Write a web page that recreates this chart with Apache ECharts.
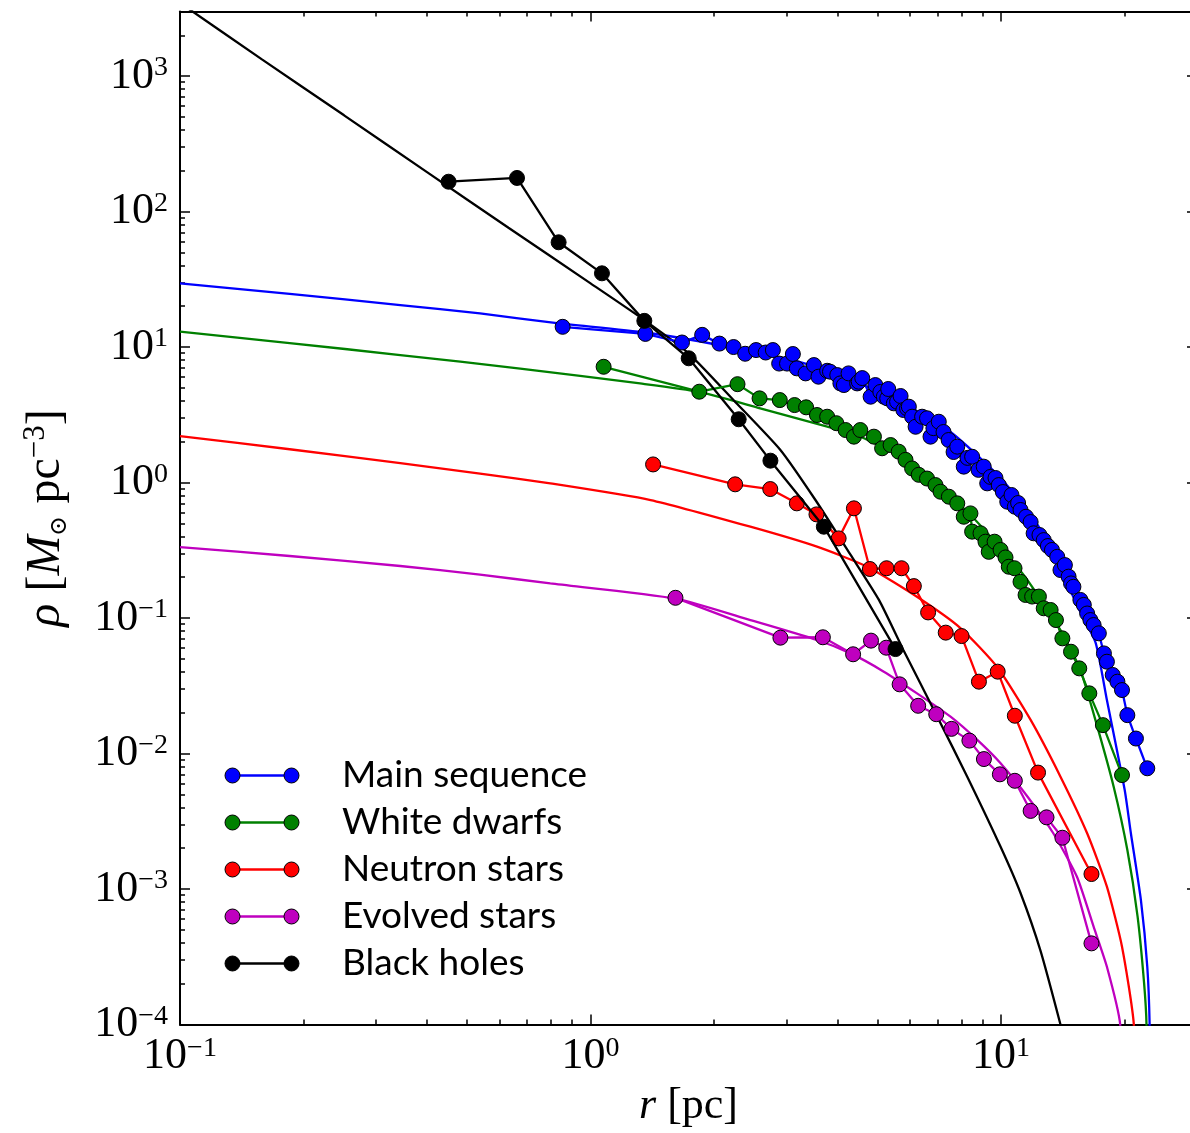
<!DOCTYPE html>
<html><head><meta charset="utf-8">
<script src="https://cdn.jsdelivr.net/npm/echarts@6/dist/echarts.min.js"></script>
<style>html,body{margin:0;padding:0;background:#fff}#c{width:1190px;height:1133px}</style>
</head><body><div id="c"></div>
<script>
// ---------------- data (r [pc], rho [Msun pc^-3]) ----------------
const seriesNames = ['Main sequence', 'White dwarfs', 'Neutron stars', 'Evolved stars', 'Black holes'];
const seriesColors = ['#0000ff', '#008000', '#ff0000', '#bf00bf', '#000000'];

// measured profiles (points joined by lines, in order of radius)
const msData = [[0.855,14.1],[1.36,12.5],[1.67,10.8],[1.87,12.3],[2.06,10.6],[2.23,10.0],[2.38,8.92],[2.53,9.50],[2.67,9.11],[2.78,9.50],[2.88,7.55],[3.01,7.55],[3.11,8.88],[3.18,6.96],[3.34,6.39],[3.50,7.36],[3.59,6.04],[3.77,6.68],[3.83,6.58],[3.99,6.21],[4.06,5.39],[4.14,5.24],[4.25,6.39],[4.46,5.39],[4.50,5.55],[4.59,5.90],[4.81,4.30],[4.94,5.24],[5.08,4.66],[5.18,4.30],[5.28,4.18],[5.31,4.90],[5.48,3.84],[5.58,3.95],[5.69,4.35],[5.78,3.43],[5.90,3.53],[5.96,3.63],[6.07,3.06],[6.19,2.58],[6.42,3.06],[6.60,2.98],[6.73,2.18],[6.84,2.52],[7.05,2.81],[7.24,2.36],[7.45,2.06],[7.66,1.68],[7.82,1.84],[8.11,1.31],[8.28,1.52],[8.50,1.55],[8.81,1.24],[9.07,1.31],[9.25,0.986],[9.42,1.10],[9.69,1.08],[9.87,0.958],[10.1,0.851],[10.35,0.722],[10.6,0.809],[10.8,0.663],[11.0,0.706],[11.15,0.627],[11.5,0.559],[11.8,0.511],[12.0,0.422],[12.4,0.41],[12.7,0.376],[13.0,0.34],[13.3,0.318],[13.7,0.283],[13.95,0.226],[14.3,0.246],[14.6,0.202],[14.8,0.180],[15.0,0.170],[15.6,0.136],[15.9,0.125],[16.2,0.108],[16.5,0.0966],[16.8,0.0888],[17.3,0.0771],[17.8,0.0548],[18.1,0.0476],[18.7,0.0380],[19.2,0.0339],[19.7,0.0294],[20.3,0.0192],[21.3,0.0129],[22.7,0.00778]];
const wdData = [[1.076,7.15],[1.84,4.68],[2.28,5.32],[2.58,4.18],[2.89,4.06],[3.14,3.73],[3.35,3.59],[3.56,3.15],[3.77,3.06],[3.97,2.74],[4.18,2.44],[4.38,2.18],[4.54,2.44],[4.90,2.18],[5.13,1.79],[5.38,1.89],[5.63,1.69],[5.85,1.47],[6.07,1.27],[6.30,1.14],[6.60,1.07],[6.92,0.958],[7.12,0.855],[7.46,0.786],[7.82,0.702],[8.11,0.559],[8.42,0.592],[8.50,0.434],[8.91,0.422],[9.16,0.366],[9.33,0.308],[9.64,0.366],[9.97,0.318],[10.25,0.280],[10.44,0.239],[10.78,0.233],[11.15,0.185],[11.47,0.148],[11.9,0.144],[12.36,0.144],[12.7,0.118],[13.2,0.1146],[13.6,0.0966],[14.1,0.0708],[14.8,0.0564],[15.5,0.0425],[16.4,0.0278],[17.7,0.0162],[19.7,0.00693]];
const nsData = [[1.42,1.36],[2.25,0.970],[2.74,0.895],[3.18,0.702],[3.55,0.582],[4.02,0.387],[4.38,0.645],[4.79,0.230],[5.26,0.233],[5.72,0.233],[6.13,0.172],[6.64,0.110],[7.33,0.078],[8.01,0.0736],[8.83,0.0339],[9.81,0.0402],[10.8,0.019],[12.3,0.00723],[16.6,0.00129]];
const esData = [[1.61,0.141],[2.90,0.0716],[3.68,0.0721],[4.36,0.054],[4.82,0.0681],[5.25,0.0604],[5.66,0.0324],[6.28,0.0225],[6.95,0.0195],[7.57,0.0152],[8.37,0.01245],[9.08,0.0091],[9.93,0.00702],[10.8,0.00629],[11.8,0.00377],[12.9,0.00338],[14.1,0.00239],[16.6,0.000397]];
const bhData = [[0.451,166],[0.662,177],[0.836,59.3],[1.066,35.0],[1.352,15.6],[1.734,8.26],[2.295,2.93],[2.742,1.45],[3.70,0.472],[5.53,0.059]];

// model curves
const msModel = [[0.1,29.5],[0.185,24.7],[0.344,20.4],[0.538,17.7],[0.828,15.0],[1.359,12.8],[2.07,10.3],[3.24,7.75],[4.30,5.71],[5.69,3.93],[7.53,2.36],[9.97,1.08],[12.5,0.446],[15.6,0.111],[17.0,0.0653],[18.1,0.0248],[20.0,0.00538],[20.7,0.00259],[21.9,0.00083],[22.7,0.000267],[23.0,0.0001],[23.2,0.00001]];
const wdModel = [[0.1,13.0],[0.185,10.7],[0.344,8.73],[0.674,6.94],[1.32,5.39],[1.83,4.68],[2.59,3.53],[3.91,2.51],[4.54,2.18],[5.69,1.54],[8.19,0.627],[11.26,0.214],[13.95,0.0815],[15.6,0.0413],[17.15,0.0158],[18.8,0.00569],[20.3,0.00194],[21.5,0.000625],[22.3,0.000201],[22.6,0.0001],[22.75,0.00001]];
const nsModel = [[0.1,2.20],[0.185,1.76],[0.344,1.39],[0.538,1.165],[0.798,0.986],[1.40,0.743],[2.45,0.472],[3.56,0.336],[4.72,0.239],[6.29,0.141],[7.96,0.0843],[9.78,0.0435],[11.8,0.0177],[13.95,0.00675],[16.2,0.00258],[18.1,0.00104],[19.7,0.000375],[21.05,0.0001],[21.4,0.00001]];
const esModel = [[0.1,0.334],[0.185,0.287],[0.344,0.242],[0.538,0.209],[0.798,0.180],[1.61,0.139],[2.45,0.0966],[3.56,0.0688],[4.30,0.0548],[5.18,0.0402],[6.24,0.0278],[7.53,0.0187],[8.75,0.0126],[9.97,0.00847],[11.6,0.0048],[13.4,0.00258],[15.3,0.00123],[16.8,0.000527],[18.1,0.000267],[19.5,0.0001],[19.9,0.00001]];
const bhModel = [[0.1,3470],[0.158,1334],[0.251,513],[0.398,197],[0.631,75.9],[1.0,29.5],[1.352,15.8],[1.73,9.03],[2.24,4.00],[2.90,1.74],[3.53,0.743],[4.30,0.292],[5.04,0.136],[5.78,0.0581],[6.99,0.0187],[8.27,0.00675],[9.97,0.00205],[11.15,0.000934],[12.48,0.000348],[13.95,0.0001],[14.76,0.00005]];

// axes ranges and tick labels
const xRange = [0.1, 30];
const yRange = [1e-4, 3000];
const xMajor = [0.1, 1, 10];
const yMajor = [1e-4, 1e-3, 1e-2, 1e-1, 1, 10, 100, 1000];
const minorMult = [2, 3, 4, 5, 6, 7, 8, 9];

// ---------------- build ----------------
const dataSets = [msData, wdData, nsData, esData, bhData];
const modelSets = [msModel, wdModel, nsModel, esModel, bhModel];

function minorList(major, range) {
  const out = [];
  major.forEach(m => minorMult.forEach(k => { const v = m * k; if (v < range[1]) out.push(v); }));
  return out;
}
const L = v => Math.log10(v);

const serif = "'Liberation Serif', 'DejaVu Serif', serif";
function powLabel(v) {
  const lg = Math.log10(v);
  const e = Math.round(lg);
  if (Math.abs(lg - e) > 1e-6) return '';
  return '{b|10}{s|' + (e < 0 ? '\u2212' + (-e) : String(e)) + '}';
}
const labelRich = {
  b: { fontFamily: serif, fontSize: 44, lineHeight: 44, color: '#000' },
  s: { fontFamily: serif, fontSize: 28, lineHeight: 28, verticalAlign: 'top', color: '#000' }
};

function tickAxis(position, range, vals, len, showLine) {
  return {
    type: 'value', position: position, min: L(range[0]), max: L(range[1]),
    axisLine: { show: showLine, onZero: false, lineStyle: { color: '#000', width: 2 } },
    axisTick: { show: true, inside: true, length: len, customValues: vals.map(L), lineStyle: { color: '#000', width: 1.5 } },
    axisLabel: { show: false }, splitLine: { show: false }, silent: true
  };
}

const xAxes = [
  {
    type: 'log', logBase: 10, min: xRange[0], max: xRange[1], position: 'bottom',
    axisLine: { show: true, onZero: false, lineStyle: { color: '#000', width: 2 } },
    axisTick: { show: false }, splitLine: { show: false }, minorTick: { show: false },
    axisLabel: { formatter: powLabel, rich: labelRich, margin: 10, showMinLabel: true, showMaxLabel: true, hideOverlap: false },
    name: '{i|r}{r| [pc]}', nameLocation: 'middle', nameGap: 57,
    nameTextStyle: { rich: {
      i: { fontFamily: serif, fontStyle: 'italic', fontSize: 44, lineHeight: 50, color: '#000' },
      r: { fontFamily: serif, fontSize: 44, lineHeight: 50, color: '#000' } } }
  },
  tickAxis('bottom', xRange, xMajor, 10, false),
  tickAxis('bottom', xRange, minorList(xMajor, xRange), 5, false),
  tickAxis('top', xRange, xMajor, 10, true),
  tickAxis('top', xRange, minorList(xMajor, xRange), 5, false)
];
const yAxes = [
  {
    type: 'log', logBase: 10, min: yRange[0], max: yRange[1], position: 'left',
    axisLine: { show: true, onZero: false, lineStyle: { color: '#000', width: 2 } },
    axisTick: { show: false }, splitLine: { show: false }, minorTick: { show: false },
    axisLabel: { formatter: powLabel, rich: labelRich, margin: 12, showMinLabel: true, showMaxLabel: true, hideOverlap: false },
    name: '{i|\u03c1}{r| [}{i|M}{sub|\u2299}{r| pc}{sup|\u22123}{r|]}', nameLocation: 'middle', nameGap: 108, nameRotate: 90,
    nameTextStyle: { rich: {
      i: { fontFamily: serif, fontStyle: 'italic', fontSize: 48, lineHeight: 52, color: '#000' },
      r: { fontFamily: serif, fontSize: 48, lineHeight: 52, color: '#000' },
      sub: { fontFamily: "'DejaVu Serif', serif", fontSize: 24, lineHeight: 24, verticalAlign: 'bottom', color: '#000' },
      sup: { fontFamily: serif, fontSize: 31, lineHeight: 31, verticalAlign: 'top', color: '#000' } } }
  },
  tickAxis('left', yRange, yMajor, 10, false),
  tickAxis('left', yRange, minorList(yMajor, yRange), 5, false),
  tickAxis('right', yRange, yMajor, 10, true),
  tickAxis('right', yRange, minorList(yMajor, yRange), 5, false)
];

const series = [];
modelSets.forEach((d, i) => {
  series.push({
    name: seriesNames[i] + ' model', type: 'line', data: d, xAxisIndex: 0, yAxisIndex: 0,
    showSymbol: false, symbol: 'none', smooth: 0.2, clip: true,
    lineStyle: { color: seriesColors[i], width: 2.3 }, itemStyle: { color: seriesColors[i] },
    z: 2, silent: true, emphasis: { disabled: true }
  });
});
dataSets.forEach((d, i) => {
  series.push({
    name: seriesNames[i], type: 'line', data: d.slice().sort((a, b) => a[0] - b[0]), xAxisIndex: 0, yAxisIndex: 0,
    symbol: 'circle', symbolSize: 15, showSymbol: true, clip: true,
    lineStyle: { color: seriesColors[i], width: 2.3 },
    itemStyle: { color: seriesColors[i], borderColor: '#000', borderWidth: 1 },
    z: 3 + i * 0.01, emphasis: { disabled: true }
  });
});

const legendFont = "Lato, 'Noto Sans', sans-serif";
const legendCommon = {
  data: seriesNames, orient: 'vertical', top: 752, padding: 0, itemGap: 0,
  selectedMode: false
};
const option = {
  animation: false,
  backgroundColor: '#fff',
  grid: { left: 180, right: -7, top: 11.4, bottom: 108.5, containLabel: false, outerBoundsMode: 'none' },
  xAxis: xAxes,
  yAxis: yAxes,
  legend: [
    Object.assign({}, legendCommon, {
      left: 232, icon: 'rect', itemWidth: 59, itemHeight: 2.3,
      itemStyle: { borderWidth: 0 }, formatter: function () { return ' '; },
      textStyle: { fontFamily: legendFont, fontSize: 37, lineHeight: 47, color: '#000' }, z: 4
    }),
    Object.assign({}, legendCommon, {
      left: 224.5, icon: 'path://M0,7.5A7.5,7.5,0,1,0,15,7.5A7.5,7.5,0,1,0,0,7.5ZM59,7.5A7.5,7.5,0,1,0,74,7.5A7.5,7.5,0,1,0,59,7.5Z',
      itemWidth: 74, itemHeight: 15,
      itemStyle: { borderColor: '#000', borderWidth: 1 },
      textStyle: { fontFamily: legendFont, fontSize: 37, lineHeight: 47, color: '#000', padding: [0, 0, 0, 38] }, z: 5
    })
  ],
  series: series
};
const chart = echarts.init(document.getElementById('c'), null, { renderer: 'canvas' });
chart.setOption(option);
</script></body></html>
